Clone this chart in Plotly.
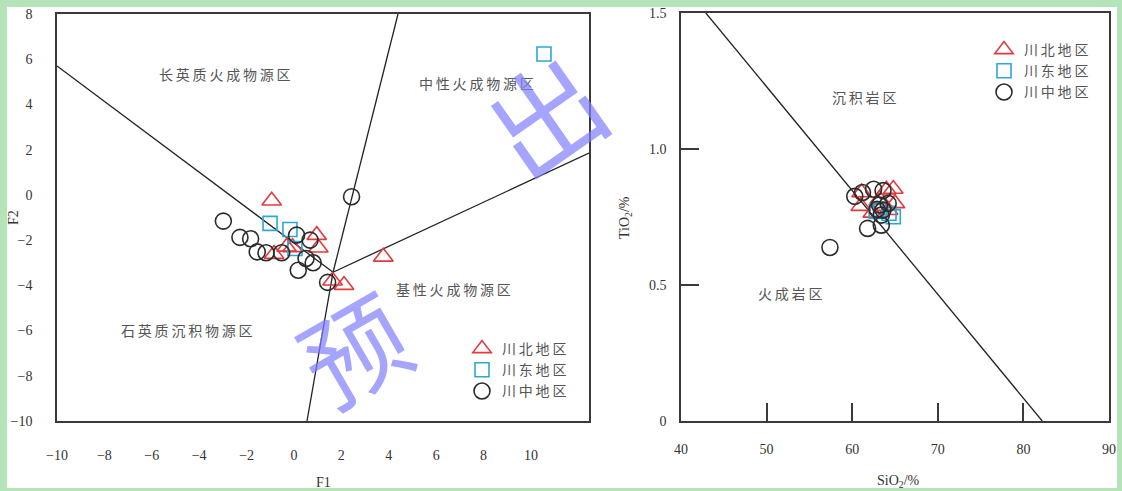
import plotly.graph_objects as go

W, H = 1122, 491

# ---- Left panel: F1-F2 discriminant function diagram ----
north_f1 = [-0.94, 0.96, 1.03, -0.84, -0.31, -0.06, 1.63, 2.11, 3.77]
north_f2 = [-0.26, -1.78, -2.34, -2.62, -2.30, -2.32, -3.80, -3.99, -2.74]
east_f1 = [-1.01, -0.17, 0.04, 10.55]
east_f2 = [-1.26, -1.53, -2.37, 6.23]
central_f1 = [-2.98, -2.28, -1.83, -1.55, -1.18, -0.52, 0.11, 0.68, 0.51, 0.18, 0.81, 1.42, 2.43]
central_f2 = [-1.16, -1.88, -1.94, -2.52, -2.56, -2.56, -1.78, -2.00, -2.81, -3.33, -3.00, -3.87, -0.08]

# boundary segments, each running out from the common junction
junction = (1.65, -3.42)
bound_ends = [(-10.0, 5.70), (4.39, 8.0), (0.55, -10.0), (12.45, 1.85)]

f_ticks = list(range(-10, 11, 2))
f2_ticks = list(range(-10, 9, 2))

# ---- Right panel: TiO2-SiO2 diagram ----
north_si = [61.1, 64.0, 64.8, 61.0, 65.0, 63.2, 62.4, 64.2, 63.6]
north_ti = [0.840, 0.850, 0.853, 0.790, 0.800, 0.815, 0.765, 0.775, 0.790]
east_si = [64.8, 64.3, 63.3, 62.8]
east_ti = [0.751, 0.764, 0.778, 0.770]
central_si = [60.3, 61.2, 62.5, 63.6, 63.2, 62.9, 63.6, 63.4, 64.2, 61.8, 63.4, 57.4]
central_ti = [0.826, 0.840, 0.852, 0.847, 0.794, 0.778, 0.776, 0.757, 0.800, 0.708, 0.720, 0.638]

ti_line_si = [42.9, 82.2]
ti_line_ti = [1.5, 0.0]

si_ticks = [40, 50, 60, 70, 80, 90]
ti_ticks = [0, 0.5, 1.0, 1.5]
ti_labels = ["0", "0.5", "1.0", "1.5"]

series_names = ["川北地区", "川东地区", "川中地区"]
RED, CYAN, BLACK = "#e03a3e", "#2aa8d8", "#2b2b2b"
AXC = "#3a3a3a"
CJK = "Noto Sans CJK SC"
SERIF = "Liberation Serif"
SP = "\u2009"


def spaced(s):
    return SP.join(s)


def px(x):
    return x / W


def py(y):
    return 1 - y / H


fig = go.Figure()

# boundaries of the left diagram
for ex, ey in bound_ends:
    fig.add_trace(go.Scatter(x=[junction[0], ex], y=[junction[1], ey], mode="lines",
                             line=dict(color="#222", width=1.3), showlegend=False,
                             hoverinfo="skip", xaxis="x", yaxis="y"))

groups_left = [
    (north_f1, north_f2, "triangle-up-open", RED, 17),
    (east_f1, east_f2, "square-open", CYAN, 14),
    (central_f1, central_f2, "circle-open", BLACK, 16),
]
for (xs, ys, sym, col, sz), name in zip(groups_left, series_names):
    fig.add_trace(go.Scatter(x=xs, y=ys, mode="markers", name=spaced(name),
                             marker=dict(symbol=sym, size=sz, color=col,
                                         line=dict(color=col, width=1.6)),
                             xaxis="x", yaxis="y", legend="legend"))

fig.add_trace(go.Scatter(x=ti_line_si, y=ti_line_ti, mode="lines",
                         line=dict(color="#222", width=1.3), showlegend=False,
                         hoverinfo="skip", xaxis="x2", yaxis="y2"))

groups_right = [
    (north_si, north_ti, "triangle-up-open", RED, 17),
    (east_si, east_ti, "square-open", CYAN, 14),
    (central_si, central_ti, "circle-open", BLACK, 16),
]
for (xs, ys, sym, col, sz), name in zip(groups_right, series_names):
    fig.add_trace(go.Scatter(x=xs, y=ys, mode="markers", name=spaced(name),
                             marker=dict(symbol=sym, size=sz, color=col,
                                         line=dict(color=col, width=1.6)),
                             xaxis="x2", yaxis="y2", legend="legend2"))

tickfont = dict(family=SERIF, size=14, color="#333")
box = dict(showline=True, mirror=True, linecolor=AXC, linewidth=1.5,
           showgrid=False, zeroline=False, automargin=False)

annos = []


def label(x, y, text, size=14, color="#555", family=CJK, angle=0, opacity=1):
    annos.append(dict(x=px(x), y=py(y), xref="paper", yref="paper", text=text,
                      showarrow=False, font=dict(family=family, size=size, color=color),
                      xanchor="center", yanchor="middle", textangle=angle,
                      opacity=opacity))


# region names
label(225, 74, spaced("长英质火成物源区"))
label(476, 83, spaced("中性火成物源区"))
label(453, 289, spaced("基性火成物源区"))
label(187, 330, spaced("石英质沉积物源区"))
label(864, 97, spaced("沉积岩区"))
label(790, 293, spaced("火成岩区"))

# axis titles
label(323, 482, "F1", family=SERIF, color="#333")
label(14, 218, "F2", family=SERIF, color="#333", angle=-90)
label(898, 481, "SiO<sub>2</sub>/%", family=SERIF, color="#333")
label(626, 218, "TiO<sub>2</sub>/%", family=SERIF, color="#333", angle=-90)

# translucent stamp characters over the left panel
label(543, 112, "出", size=112, color="#7f7fff", angle=-35, opacity=0.7)
label(352, 346, "预", size=104, color="#7f7fff", angle=-30, opacity=0.7)

fig.update_layout(
    width=W, height=H,
    margin=dict(l=0, r=0, t=0, b=0, autoexpand=False),
    paper_bgcolor="#b4e4b7",
    plot_bgcolor="white",
    xaxis=dict(domain=[px(57), px(589)], range=[-10, 12.45], tickvals=f_ticks,
               ticks="", tickfont=tickfont, ticklabelstandoff=20, anchor="y", **box),
    yaxis=dict(domain=[py(421), py(14)], range=[-10, 8], tickvals=f2_ticks,
               ticks="", tickfont=tickfont, ticklabelstandoff=20, anchor="x", **box),
    xaxis2=dict(domain=[px(681), px(1109)], range=[40, 90], tickvals=si_ticks,
                ticks="inside", ticklen=18, tickwidth=1.5, tickcolor=AXC,
                tickfont=tickfont, ticklabelstandoff=14, anchor="y2", **box),
    yaxis2=dict(domain=[py(421), py(13)], range=[0, 1.5], tickvals=ti_ticks,
                ticktext=ti_labels, ticks="inside", ticklen=18, tickwidth=1.5,
                tickcolor=AXC, tickfont=tickfont, ticklabelstandoff=10, anchor="x2", **box),
    legend=dict(x=px(462), y=py(333), xanchor="left", yanchor="top",
                bgcolor="rgba(0,0,0,0)", font=dict(family=CJK, size=14, color="#555"),
                tracegroupgap=0, itemsizing="trace"),
    legend2=dict(x=px(984), y=py(34), xanchor="left", yanchor="top",
                 bgcolor="rgba(0,0,0,0)", font=dict(family=CJK, size=14, color="#555"),
                 tracegroupgap=0, itemsizing="trace"),
    annotations=annos,
    shapes=[dict(type="rect", xref="paper", yref="paper", x0=px(7), x1=px(1117),
                 y0=py(488), y1=py(7), fillcolor="white", line=dict(width=0),
                 layer="below")],
    showlegend=True,
)

fig.write_html("out.html")
